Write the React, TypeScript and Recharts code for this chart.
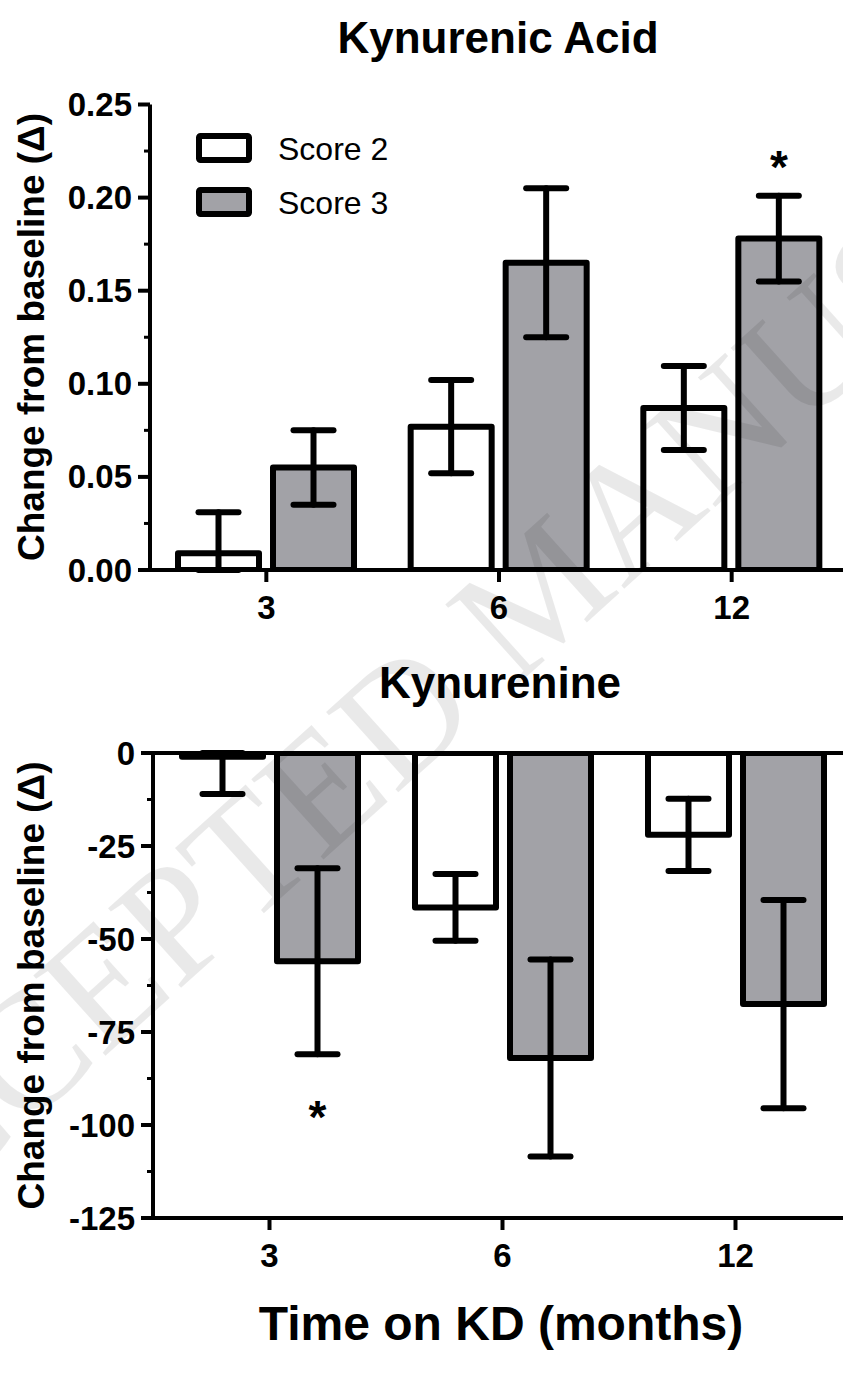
import React from "react";
import { BarChart, Bar, XAxis, YAxis, ErrorBar, ReferenceLine, LabelList } from "recharts";

// ---------- data ----------
const months = ["3", "6", "12"];
const seriesNames = ["Score 2", "Score 3"];
const seriesFills = ["#ffffff", "#a2a2a7"];

// Kynurenic Acid (top panel)
const kaScore2 = [0.009, 0.077, 0.087];
const kaScore2Err: (number | number[])[] = [[0.009, 0.022], 0.025, 0.0225];
const kaScore3 = [0.055, 0.165, 0.178];
const kaScore3Err: (number | number[])[] = [0.02, 0.04, 0.023];
const kaStar: (number | null)[] = [null, null, 0.222];
const kaMajorTicks = [0, 0.05, 0.1, 0.15, 0.2, 0.25];
const kaMinorTicks = [0.025, 0.075, 0.125, 0.175, 0.225];

// Kynurenine (bottom panel)
const kyScore2 = [-1, -41.5, -22];
const kyScore2Err: (number | number[])[] = [[10, 1], 9, 9.7];
const kyScore3 = [-56, -82, -67.5];
const kyScore3Err: (number | number[])[] = [25, 26.5, 28];
const kyStar: (number | null)[] = [-95, null, null];
const kyMajorTicks = [-125, -100, -75, -50, -25, 0];
const kyMinorTicks = [-112.5, -87.5, -62.5, -37.5, -12.5];

const titles = ["Kynurenic Acid", "Kynurenine"];
const yLabel = "Change from baseline (\u0394)";
const xLabel = "Time on KD (months)";
const watermark = "ACCEPTED MANUSCRIPT";

// ---------- helpers ----------
const FONT = "'Liberation Sans', Arial, Helvetica, sans-serif";
const TICK_SIZE = 12;
const TICK_MARGIN = 6;
const STROKE = 6;

const buildRows = (
  s2: number[],
  s2e: (number | number[])[],
  s3: number[],
  s3e: (number | number[])[],
  star: (number | null)[]
) => months.map((m, i) => ({ month: m, s2: s2[i], s2e: s2e[i], s3: s3[i], s3e: s3e[i], star: star[i] }));

const kaRows = buildRows(kaScore2, kaScore2Err, kaScore3, kaScore3Err, kaStar);
const kyRows = buildRows(kyScore2, kyScore2Err, kyScore3, kyScore3Err, kyStar);

const makeYTick = (major: number[], fmt: (v: number) => string) => (p: any) => {
  const v = Number(p.payload.value);
  const isMajor = major.some((m) => Math.abs(m - v) < 1e-9);
  const ax = p.x + TICK_SIZE + TICK_MARGIN;
  return (
    <g>
      <line
        x1={ax - (isMajor ? TICK_SIZE : 6)}
        x2={ax}
        y1={p.y}
        y2={p.y}
        stroke="#000"
        strokeWidth={isMajor ? 4 : 3}
      />
      {isMajor && (
        <text
          x={p.x}
          y={p.y}
          textAnchor="end"
          dominantBaseline="central"
          fontFamily={FONT}
          fontWeight="bold"
          fontSize={33}
          fill="#000"
        >
          {fmt(v)}
        </text>
      )}
    </g>
  );
};

const XTick = (p: any) => (
  <text
    x={p.x}
    y={p.y + 23}
    textAnchor="middle"
    fontFamily={FONT}
    fontWeight="bold"
    fontSize={33}
    fill="#000"
  >
    {p.payload.value}
  </text>
);

const makeStar = (values: number[]) => (p: any) => {
  const sv = p.value;
  if (sv === null || sv === undefined) return null;
  const vb = p.viewBox || p;
  const val = values[p.index];
  const y0 = Number(vb.y);
  const h = Number(vb.height);
  const top = Math.min(y0, y0 + h);
  const bottom = Math.max(y0, y0 + h);
  const ppu = (bottom - top) / Math.abs(val);
  const zeroY = val >= 0 ? bottom : top;
  const cy = zeroY - sv * ppu;
  const cx = Number(vb.x) + Number(vb.width) / 2;
  const fs = 46;
  return (
    <text
      x={cx}
      y={cy + 0.57 * fs}
      textAnchor="middle"
      fontFamily={FONT}
      fontWeight="bold"
      fontSize={fs}
      fill="#000"
    >
      *
    </text>
  );
};

const axisLineStyle = { stroke: "#000", strokeWidth: 4 };
const tickLineStyle = { stroke: "#000", strokeWidth: 4 };

const Panel = ({
  rows,
  domain,
  major,
  minor,
  fmt,
  margin,
  height,
  stars,
  zeroLine,
}: any) => (
  <BarChart
    width={900}
    height={height}
    data={rows}
    margin={margin}
    barSize={81}
    barGap={14}
  >
    <XAxis
      dataKey="month"
      height={50}
      axisLine={axisLineStyle}
      tickLine={tickLineStyle}
      stroke="#000"
      tickSize={TICK_SIZE}
      tickMargin={14}
      tick={<XTick />}
      interval={0}
    />
    <YAxis
      type="number"
      domain={domain}
      ticks={[...major, ...minor].sort((a: number, b: number) => a - b)}
      interval={0}
      width={60}
      axisLine={axisLineStyle}
      tickLine={false}
      tickSize={TICK_SIZE}
      tickMargin={TICK_MARGIN}
      tick={makeYTick(major, fmt)}
      allowDataOverflow
    />
    {zeroLine && <ReferenceLine y={0} stroke="#000" strokeWidth={4} />}
    <Bar
      dataKey="s2"
      name={seriesNames[0]}
      fill={seriesFills[0]}
      stroke="#000"
      strokeWidth={STROKE}
      strokeLinejoin="round"
      isAnimationActive={false}
    >
      <ErrorBar dataKey="s2e" width={20} stroke="#000" strokeWidth={STROKE} strokeLinecap="round" />
    </Bar>
    <Bar
      dataKey="s3"
      name={seriesNames[1]}
      fill={seriesFills[1]}
      stroke="#000"
      strokeWidth={STROKE}
      strokeLinejoin="round"
      isAnimationActive={false}
    >
      <ErrorBar dataKey="s3e" width={20} stroke="#000" strokeWidth={STROKE} strokeLinecap="round" />
      <LabelList dataKey="star" content={makeStar(stars)} />
    </Bar>
  </BarChart>
);

export default function App() {
  return (
    <div
      style={{
        position: "absolute",
        left: 0,
        top: 0,
        width: 843,
        height: 1376,
        overflow: "hidden",
        background: "#fff",
      }}
    >
      <div style={{ position: "absolute", left: 0, top: 0 }}>
        <Panel
          rows={kaRows}
          domain={[0, 0.25]}
          major={kaMajorTicks}
          minor={kaMinorTicks}
          fmt={(v: number) => v.toFixed(2)}
          margin={{ top: 104.5, right: 52, left: 90, bottom: 20 }}
          height={640}
          stars={kaScore3}
          zeroLine={false}
        />
      </div>
      <div style={{ position: "absolute", left: 0, top: 640 }}>
        <Panel
          rows={kyRows}
          domain={[-125, 0]}
          major={kyMajorTicks}
          minor={kyMinorTicks}
          fmt={(v: number) => String(v)}
          margin={{ top: 113, right: 48, left: 93, bottom: 72 }}
          height={700}
          stars={kyScore3}
          zeroLine={true}
        />
      </div>
      <svg
        width={843}
        height={1376}
        style={{ position: "absolute", left: 0, top: 0, pointerEvents: "none" }}
      >
        <text x={498} y={53} textAnchor="middle" fontFamily={FONT} fontWeight="bold" fontSize={44} fill="#000">
          {titles[0]}
        </text>
        <text x={500} y={698} textAnchor="middle" fontFamily={FONT} fontWeight="bold" fontSize={44} fill="#000">
          {titles[1]}
        </text>
        <text
          transform="translate(44,337) rotate(-90)"
          textAnchor="middle"
          fontFamily={FONT}
          fontWeight="bold"
          fontSize={37}
          fill="#000"
        >
          {yLabel}
        </text>
        <text
          transform="translate(44,985.5) rotate(-90)"
          textAnchor="middle"
          fontFamily={FONT}
          fontWeight="bold"
          fontSize={37}
          fill="#000"
        >
          {yLabel}
        </text>
        <text x={501} y={1340} textAnchor="middle" fontFamily={FONT} fontWeight="bold" fontSize={48} fill="#000">
          {xLabel}
        </text>
        {seriesNames.map((n, i) => (
          <g key={n}>
            <rect
              x={199}
              y={136}
              transform={`translate(0,${i * 54})`}
              width={50}
              height={24}
              fill={seriesFills[i]}
              stroke="#000"
              strokeWidth={STROKE}
              rx={1.5}
            />
            <text x={278} y={160 + i * 54} fontFamily={FONT} fontSize={32} fill="#000">
              {n}
            </text>
          </g>
        ))}
        <text
          transform="translate(540,590) rotate(-42)"
          textAnchor="middle"
          dominantBaseline="central"
          fontFamily="'Liberation Serif', 'Times New Roman', serif"
          fontSize={165}
          fill="#000"
          fillOpacity={0.085}
        >
          {watermark}
        </text>
      </svg>
    </div>
  );
}
